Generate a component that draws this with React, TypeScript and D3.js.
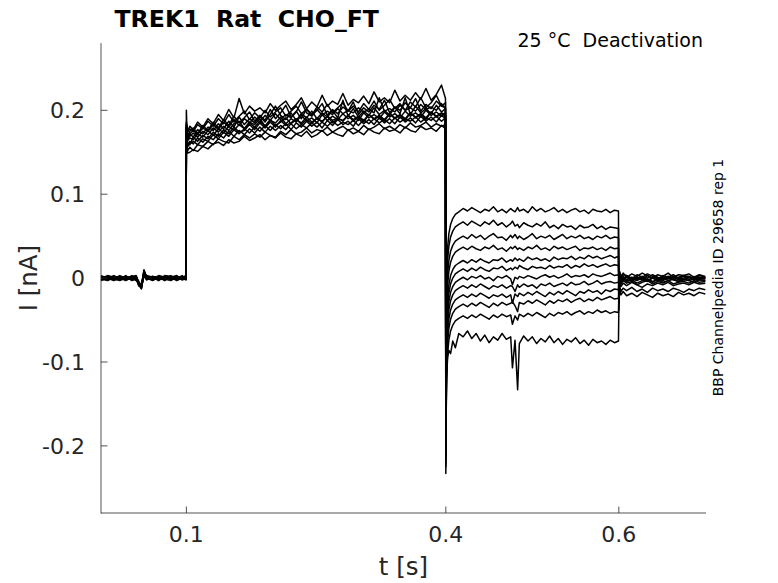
import React from 'react';
import * as d3 from 'd3';

// ---- sample times (ms) for each protocol epoch ----
const preTimesMs = [1.3, 9, 16, 23, 30, 37, 42, 45, 48, 51, 54, 61, 68, 75, 82, 89, 95, 99.6];
const stepTimesMs = [100, 100.4, 101.5, 104, 108, 113, 119, 125, 131, 137, 143, 149, 155, 161, 167, 173, 179, 185, 191, 197, 203, 209, 215, 221, 227, 233, 239, 245, 251, 257, 263, 269, 275, 281, 287, 293, 299, 305, 311, 317, 323, 329, 335, 341, 347, 353, 359, 365, 371, 377, 383, 389, 395, 399.6];
const testTimesMs = [400, 400.3, 401, 402, 403.5, 405.5, 408, 411, 415, 420, 425, 430, 435, 440, 445, 450, 455, 460, 465, 470, 475, 477, 480, 483, 485, 490, 495, 500, 505, 510, 515, 520, 525, 530, 535, 540, 545, 550, 555, 560, 565, 570, 575, 580, 585, 590, 595, 599.6];
const tailTimesMs = [600, 600.3, 601, 602.5, 605, 609, 615, 621, 627, 633, 639, 645, 651, 657, 663, 669, 675, 681, 687, 693, 700];

// ---- currents (pA), one row per sweep ----
const preCurrentsPA = [
  [1, -2, 2, 0, -3, 1, -1, -6, -9, 6, 1, -2, 2, -1, 1, -3, 0, 2],
  [-2, 1, -1, 3, 0, -2, 2, -8, -11, 3, -1, 1, -2, 2, -1, 1, -2, -1],
  [3, 0, -3, 1, 2, -1, -2, -5, -12, 9, 2, 0, 1, -3, 2, 0, 1, -2],
  [0, 3, 1, -2, 1, 2, 0, -7, -8, 4, -2, 2, -1, 1, -2, 2, -1, 1],
  [-1, -3, 2, 1, -2, 0, 1, -4, -10, 7, 0, -3, 1, 0, 3, -1, 2, 0],
  [2, 1, -2, -1, 3, -3, -1, -9, -7, 2, 3, 1, -1, 2, 0, -2, 1, 3],
  [-3, 0, 1, 2, -1, 2, 3, -6, -13, 5, -1, 2, 0, -2, 1, 3, -2, 0],
  [1, 2, -1, -3, 0, 1, -3, -5, -9, 8, 2, -1, 3, 1, -1, 0, 0, -1],
  [0, -1, 3, 0, 2, -2, 1, -8, -10, 3, -2, 0, -2, 3, 2, -2, 2, 1],
  [-2, 2, 0, 1, -2, 3, -1, -7, -11, 6, 1, 2, 1, -1, -3, 1, -1, 2],
  [2, -2, -1, 2, 1, 0, 2, -6, -8, 10, 0, -2, 2, 0, 1, -1, 3, -2],
  [-1, 1, 2, -1, -1, -1, 0, -9, -12, 4, 2, 1, -3, 2, 0, 2, 0, 1],
];

const stepCurrentsPA = [
  [200, 186, 174, 178, 175, 183, 178, 187, 181, 190, 184, 195, 186, 193, 199, 189, 197, 191, 200, 192, 198, 203, 193, 199, 205, 196, 201, 194, 204, 198, 207, 197, 203, 209, 199, 205, 198, 208, 201, 211, 200, 206, 213, 202, 208, 200, 210, 204, 215, 203, 209, 218, 205, 209],
  [180, 168, 157, 160, 163, 159, 166, 163, 171, 166, 174, 169, 177, 172, 178, 173, 180, 175, 182, 176, 183, 178, 184, 177, 185, 180, 187, 181, 186, 179, 188, 182, 189, 183, 187, 181, 190, 184, 189, 183, 191, 185, 190, 184, 192, 186, 191, 185, 193, 187, 192, 186, 194, 190],
  [176, 172, 165, 172, 168, 177, 172, 180, 176, 184, 178, 187, 180, 192, 183, 190, 185, 193, 186, 195, 205, 194, 189, 197, 188, 196, 191, 199, 190, 197, 192, 200, 191, 212, 193, 202, 192, 199, 194, 203, 195, 200, 194, 204, 196, 215, 195, 205, 197, 202, 196, 206, 198, 202],
  [168, 156, 149, 150, 153, 151, 157, 154, 160, 162, 158, 165, 161, 163, 169, 164, 167, 171, 165, 170, 167, 173, 168, 166, 172, 169, 175, 168, 171, 176, 170, 174, 171, 169, 177, 172, 175, 171, 178, 174, 172, 179, 175, 177, 173, 180, 176, 174, 181, 177, 179, 175, 182, 178],
  [184, 178, 170, 175, 179, 172, 182, 176, 186, 179, 189, 182, 193, 185, 191, 198, 187, 194, 188, 201, 190, 197, 206, 192, 199, 190, 202, 195, 200, 208, 194, 201, 196, 204, 199, 210, 195, 203, 198, 206, 201, 212, 197, 204, 200, 209, 203, 214, 199, 207, 202, 211, 205, 203],
  [178, 170, 162, 159, 168, 163, 170, 166, 174, 169, 177, 172, 180, 174, 176, 183, 177, 185, 179, 186, 180, 188, 182, 185, 190, 183, 189, 184, 191, 186, 193, 185, 190, 188, 194, 187, 192, 186, 195, 189, 193, 187, 196, 190, 194, 188, 197, 191, 195, 189, 198, 192, 196, 193],
  [181, 174, 166, 169, 173, 168, 175, 171, 179, 174, 181, 176, 184, 187, 178, 186, 183, 190, 181, 188, 185, 192, 184, 190, 186, 194, 187, 191, 185, 195, 188, 193, 189, 196, 190, 194, 188, 197, 191, 195, 190, 198, 192, 196, 191, 199, 193, 197, 192, 200, 194, 198, 193, 197],
  [174, 160, 152, 156, 152, 159, 157, 163, 159, 166, 163, 161, 169, 165, 171, 167, 172, 168, 174, 170, 168, 175, 171, 177, 172, 174, 179, 173, 177, 175, 180, 174, 178, 181, 176, 179, 175, 182, 177, 180, 184, 178, 181, 177, 183, 179, 185, 180, 182, 186, 180, 184, 181, 183],
  [186, 181, 175, 181, 177, 186, 180, 190, 184, 195, 188, 201, 191, 214, 196, 205, 199, 203, 197, 208, 200, 206, 211, 201, 207, 215, 202, 210, 204, 218, 205, 211, 207, 220, 206, 213, 209, 217, 208, 222, 210, 215, 209, 224, 211, 218, 212, 221, 213, 226, 212, 219, 230, 214],
  [179, 171, 164, 167, 165, 172, 168, 176, 170, 178, 173, 181, 176, 183, 178, 185, 180, 187, 181, 189, 182, 186, 191, 184, 189, 185, 192, 186, 190, 187, 193, 188, 191, 187, 194, 189, 193, 188, 195, 190, 194, 189, 196, 191, 195, 190, 197, 192, 196, 191, 198, 193, 197, 195],
  [183, 176, 168, 172, 176, 171, 179, 175, 183, 177, 186, 180, 189, 182, 190, 185, 192, 186, 194, 188, 196, 189, 195, 191, 198, 210, 197, 193, 201, 194, 199, 195, 202, 196, 200, 197, 203, 198, 201, 197, 215, 199, 202, 198, 206, 200, 203, 199, 207, 201, 204, 200, 208, 202],
  [177, 166, 158, 163, 160, 167, 162, 169, 165, 172, 167, 175, 169, 176, 171, 178, 173, 180, 174, 181, 176, 182, 177, 184, 178, 183, 179, 185, 180, 186, 181, 187, 182, 186, 183, 188, 182, 189, 184, 190, 185, 189, 184, 191, 186, 190, 187, 192, 186, 191, 188, 193, 187, 191],
];

const testCurrentsPA = [
  [-150, -90, 11, 36, 53, 64, 71, 76, 79, 83, 80, 84, 81, 78, 82, 80, 85, 79, 82, 78, 83, 81, 79, 84, 80, 82, 78, 85, 80, 83, 79, 81, 84, 79, 82, 78, 81, 83, 79, 81, 77, 82, 80, 79, 82, 78, 81, 80],
  [-165, -100, -4, 21, 38, 49, 56, 61, 64, 67, 63, 68, 65, 62, 67, 64, 69, 63, 66, 61, 65, 68, 62, 64, 60, 66, 63, 61, 65, 62, 67, 60, 63, 59, 64, 61, 62, 58, 63, 60, 61, 64, 59, 62, 58, 61, 60, 59],
  [-175, -105, -21, 4, 21, 32, 39, 44, 47, 50, 47, 52, 48, 51, 46, 50, 53, 48, 49, 45, 51, 48, 52, 47, 50, 46, 49, 53, 47, 50, 48, 51, 46, 49, 52, 47, 50, 48, 51, 47, 49, 46, 50, 48, 51, 47, 49, 48],
  [-185, -112, -34, -9, 8, 19, 26, 31, 34, 37, 34, 38, 35, 33, 37, 35, 39, 34, 36, 32, 37, 35, 38, 34, 36, 33, 37, 35, 39, 34, 36, 33, 38, 35, 37, 34, 36, 38, 33, 36, 35, 37, 34, 36, 33, 37, 35, 36],
  [-190, -118, -50, -25, -8, 3, 10, 15, 18, 21, 18, 22, 19, 23, 20, 18, 22, 21, 24, 19, 22, 20, 24, 21, 23, 20, 25, 22, 24, 21, 23, 20, 25, 22, 24, 23, 26, 22, 25, 23, 27, 24, 26, 23, 25, 27, 24, 26],
  [-200, -125, -60, -35, -18, -7, 0, 5, 8, 11, 8, 12, 9, 13, 10, 8, 12, 11, 14, 9, 12, 10, 13, 11, 15, 12, 10, 14, 12, 13, 11, 15, 12, 14, 13, 16, 12, 15, 13, 17, 14, 16, 13, 15, 17, 14, 16, 15],
  [-205, -130, -70, -45, -28, -17, -10, -5, -2, 1, -2, 2, 0, 3, -1, 1, -3, 2, 0, 3, -1, -8, 1, -1, 2, 0, 3, 1, -1, 2, 4, 1, 3, 0, 2, 5, 1, 3, 2, 4, 1, 5, 3, 2, 4, 6, 3, 4],
  [-210, -135, -80, -55, -38, -27, -20, -15, -12, -9, -12, -8, -11, -7, -10, -13, -9, -11, -8, -12, -9, -10, -16, -8, -11, -7, -10, -8, -12, -7, -9, -6, -10, -8, -6, -9, -5, -8, -7, -4, -8, -6, -3, -7, -5, -4, -6, -5],
  [-215, -140, -92, -67, -49, -38, -31, -26, -23, -20, -23, -19, -22, -18, -21, -24, -20, -22, -19, -23, -20, -30, -19, -22, -18, -21, -17, -20, -16, -19, -22, -17, -20, -16, -19, -15, -18, -21, -16, -18, -14, -17, -15, -19, -14, -16, -13, -14],
  [-220, -150, -102, -77, -60, -49, -42, -37, -34, -31, -34, -30, -33, -29, -32, -35, -30, -33, -29, -32, -30, -28, -33, -40, -29, -31, -27, -30, -26, -29, -32, -27, -30, -26, -28, -25, -29, -26, -24, -28, -25, -27, -23, -26, -24, -22, -25, -24],
  [-225, -160, -116, -91, -74, -63, -56, -51, -48, -45, -48, -44, -47, -43, -46, -49, -44, -47, -43, -46, -44, -55, -45, -50, -43, -46, -42, -45, -41, -44, -47, -42, -45, -41, -43, -40, -44, -41, -39, -43, -40, -42, -38, -41, -39, -42, -40, -41],
  [-233, -170, -120, -95, -86, -90, -75, -83, -66, -70, -63, -72, -66, -75, -68, -77, -70, -74, -66, -73, -70, -107, -74, -133, -78, -69, -75, -70, -78, -72, -76, -69, -77, -72, -79, -73, -76, -71, -78, -74, -80, -73, -77, -75, -79, -74, -77, -75],
];

const tailCurrentsPA = [
  [-38, -5, 8, 2, 6, 1, 5, 2, 6, 3, 0, 4, 2, 6, 1, 4, 3, 5, 1, 4, 2],
  [-30, -2, 6, 0, 4, 3, -1, 4, 1, 5, 2, -1, 3, 1, 4, 0, 3, 2, -1, 3, 1],
  [-22, 4, -3, 2, -1, 3, 0, -2, 2, 0, 4, 1, -1, 2, -2, 1, 3, 0, 2, -1, 1],
  [-15, 6, -2, 1, -3, 2, -1, 1, -2, 3, 0, -3, 1, -1, 2, -2, 0, 2, -1, 1, 0],
  [-8, 5, 1, -3, 2, -2, 1, -1, 2, -3, 1, 0, -2, 2, 0, -1, 2, -2, 1, 0, -1],
  [0, 7, -4, 0, -2, 1, -3, 0, -1, -4, 0, -2, 1, -3, -1, 0, -2, 1, -2, -1, 0],
  [4, -6, 2, -3, 0, -4, -1, -3, 0, -2, -5, -1, -3, 0, -2, -4, -1, -3, -1, -2, -3],
  [6, -8, 0, -5, -1, -4, -2, -6, -3, -1, -4, -2, -5, -3, -1, -4, -2, -3, -5, -2, -3],
  [3, -12, -2, -7, -3, -6, -4, -8, -5, -3, -7, -4, -6, -3, -7, -5, -4, -6, -3, -5, -4],
  [-4, -18, -5, -10, -6, -9, -5, -8, -11, -7, -9, -6, -8, -5, -9, -7, -6, -8, -5, -7, -6],
  [-20, -30, -10, -16, -12, -15, -11, -16, -13, -17, -12, -15, -13, -16, -12, -14, -17, -13, -15, -12, -14],
  [-40, -26, -14, -20, -16, -21, -18, -22, -17, -20, -23, -18, -21, -19, -22, -17, -20, -18, -21, -17, -19],
];

// ---- axis ticks and labels ----
const xTickValues = [0.1, 0.4, 0.6];
const xTickLabels = ['0.1', '0.4', '0.6'];
const yTickValues = [-0.2, -0.1, 0, 0.1, 0.2];
const yTickLabels = ['-0.2', '-0.1', '0', '0.1', '0.2'];
const titleText = 'TREK1  Rat  CHO_FT';
const conditionText = '25 °C  Deactivation';
const sourceText = 'BBP Channelpedia ID 29658 rep 1';
const xLabel = 't [s]';
const yLabel = 'I [nA]';

const W = 778;
const H = 583;
const FONT = '"DejaVu Sans", sans-serif';

const epochs: [number[], number[][], string][] = [
  [preTimesMs, preCurrentsPA, 'pre'],
  [stepTimesMs, stepCurrentsPA, 'step'],
  [testTimesMs, testCurrentsPA, 'test'],
  [tailTimesMs, tailCurrentsPA, 'tail'],
];

const sweepCount = preCurrentsPA.length;
const sweeps: [number, number][][] = d3.range(sweepCount).map((i) => {
  const pts: [number, number][] = [];
  for (const [times, rows, name] of epochs) {
    const row = rows[i];
    if (row.length !== times.length) {
      throw new Error(`epoch ${name} sweep ${i + 1}: ${row.length} values vs ${times.length} times`);
    }
    times.forEach((t, j) => pts.push([t / 1000, row[j] / 1000]));
  }
  return pts;
});

export default function App() {
  const x = d3.scaleLinear().domain([0.0013, 0.7008]).range([101, 706]);
  const y = d3.scaleLinear().domain([-0.28, 0.28]).range([513, 43.2]);
  const line = d3
    .line<[number, number]>()
    .x((d) => x(d[0]))
    .y((d) => y(d[1]));

  const [x0, x1] = x.range();
  const [y0, y1] = y.range();
  const axisColor = '#262626';

  return (
    <svg
      width={W}
      height={H}
      viewBox={`0 0 ${W} ${H}`}
      style={{ position: 'absolute', left: 0, top: 0, background: '#fff', display: 'block' }}
      fontFamily={FONT}
    >
      <rect x={0} y={0} width={W} height={H} fill="#fff" />
      <g>
        {sweeps.map((s, i) => (
          <path key={i} d={line(s) || ''} fill="none" stroke="#000" strokeWidth={1.5} strokeLinejoin="round" />
        ))}
      </g>
      {/* axes */}
      <line x1={x0} x2={x0} y1={y0 + 0.5} y2={y1} stroke={axisColor} strokeWidth={0.8} />
      <line x1={x0} x2={x1} y1={y0} y2={y0} stroke={axisColor} strokeWidth={0.8} />
      {yTickValues.map((v, i) => (
        <g key={'y' + i}>
          <line x1={x0} x2={x0 + 6.5} y1={y(v)} y2={y(v)} stroke={axisColor} strokeWidth={0.8} />
          <text x={85} y={y(v)} dy="0.36em" textAnchor="end" fontSize={22} fill="#262626">
            {yTickLabels[i]}
          </text>
        </g>
      ))}
      {xTickValues.map((v, i) => (
        <g key={'x' + i}>
          <line x1={x(v)} x2={x(v)} y1={y0} y2={y0 - 6.5} stroke={axisColor} strokeWidth={0.8} />
          <text x={x(v)} y={542.3} textAnchor="middle" fontSize={22} fill="#262626">
            {xTickLabels[i]}
          </text>
        </g>
      ))}
      <text x={(x0 + x1) / 2} y={575} textAnchor="middle" fontSize={24.5} fill="#262626">
        {xLabel}
      </text>
      <text
        transform={`translate(36.5, ${(y0 + y1) / 2}) rotate(-90)`}
        textAnchor="middle"
        fontSize={24.5}
        fill="#262626"
      >
        {yLabel}
      </text>
      <text x={114.5} y={26.5} fontSize={23.6} fontWeight="bold" fill="#000" style={{ whiteSpace: 'pre' }}>
        {titleText}
      </text>
      <text x={703} y={47} textAnchor="end" fontSize={19} fill="#000" style={{ whiteSpace: 'pre' }}>
        {conditionText}
      </text>
      <text transform={`translate(723, 277.5) rotate(-90)`} textAnchor="middle" fontSize={14} fill="#000">
        {sourceText}
      </text>
    </svg>
  );
}
